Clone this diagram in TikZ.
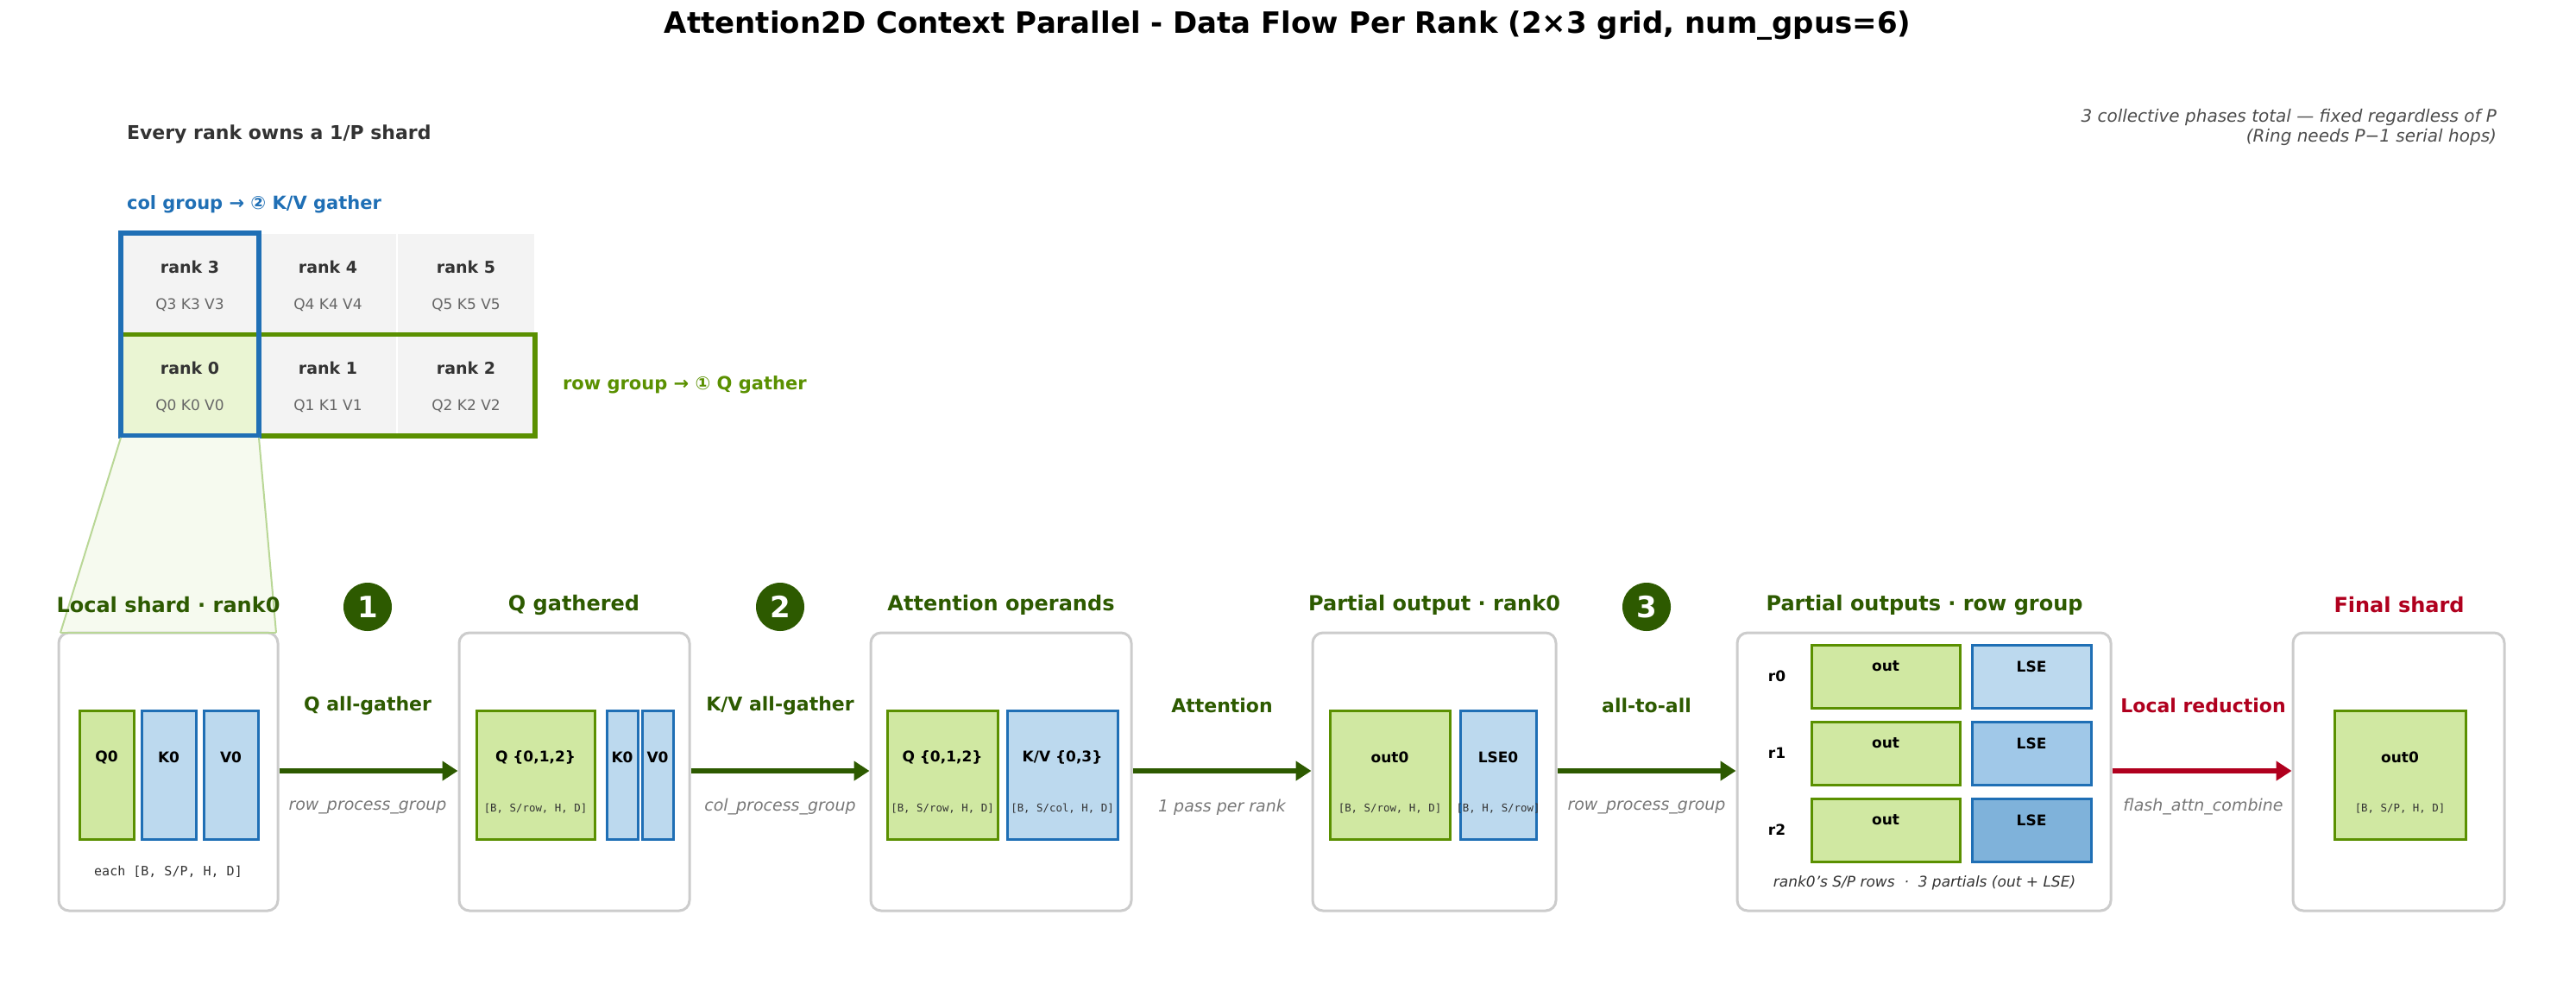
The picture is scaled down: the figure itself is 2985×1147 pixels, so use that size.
\documentclass[tikz,border=0pt]{standalone}
\usepackage{fontspec}
\setmainfont{DejaVu Sans}
\setsansfont{DejaVu Sans}
\setmonofont{DejaVu Sans Mono}
\usetikzlibrary{arrows.meta}
\definecolor{dg}{HTML}{2D5A00}
\definecolor{gst}{HTML}{5A9000}
\definecolor{gfl}{HTML}{D0E8A2}
\definecolor{bst}{HTML}{1F6FB5}
\definecolor{bfl}{HTML}{BCD9EE}
\definecolor{bfl2}{HTML}{A0C8E8}
\definecolor{bfl3}{HTML}{7FB2DA}
\definecolor{rd}{HTML}{B0001E}
\definecolor{txt}{HTML}{333333}
\definecolor{sub}{HTML}{777777}
\definecolor{cellf}{HTML}{F3F3F3}
\definecolor{r0f}{HTML}{EAF5D3}
\definecolor{trf}{HTML}{F6FAEF}
\definecolor{trs}{HTML}{B9D796}
\begin{document}
\begin{tikzpicture}[x=0.5pt,y=-0.5pt,
  panel/.style={draw=black!20,line width=1.5pt,rounded corners=6pt,fill=white},
  gblk/.style={draw=gst,fill=gfl,line width=1.5pt},
  bblk/.style={draw=bst,fill=bfl,line width=1.5pt},
  ptitle/.style={font=\fontsize{12}{14}\selectfont\bfseries,text=dg},
  alab/.style={font=\fontsize{11}{13}\selectfont\bfseries,text=dg},
  asub/.style={font=\fontsize{9.5}{11}\selectfont\itshape,text=sub},
  blab/.style={font=\fontsize{8.5}{10}\selectfont\bfseries,text=black},
  dims/.style={font=\fontsize{6.2}{7}\selectfont\ttfamily,text=txt},
  flow/.style={-{Triangle[length=9pt,width=11pt]},line width=3pt,draw=dg},
  badge/.style={circle,fill=dg,text=white,minimum size=28pt,inner sep=0pt,font=\fontsize{17}{18}\selectfont\bfseries},
  rk/.style={font=\fontsize{9.5}{11}\selectfont\bfseries,text=txt},
  rq/.style={font=\fontsize{8.5}{10}\selectfont,text=black!60}]
\useasboundingbox (0,0) rectangle (2985,1147);
\node[font=\fontsize{17}{20}\selectfont\bfseries] (title) at (1492,30) {Attention2D Context Parallel - Data Flow Per Rank (2×3 grid, num\_gpus=6)};
\node[anchor=west,font=\fontsize{11}{13}\selectfont\bfseries,text=txt] (every) at (140,156) {Every rank owns a 1/P shard};
\node[anchor=east,align=right,font=\fontsize{10}{11.5}\selectfont\itshape,text=black!70] (note) at (2900,147) {3 collective phases total — fixed regardless of P\\(Ring needs P−1 serial hops)};
\node[anchor=west,font=\fontsize{10.5}{13}\selectfont\bfseries,text=bst] (colg) at (140,237) {col group → ② K/V gather};
% grid cells
\foreach \c/\r/\n/\q in {0/0/3/Q3 K3 V3,1/0/4/Q4 K4 V4,2/0/5/Q5 K5 V5,0/1/0/Q0 K0 V0,1/1/1/Q1 K1 V1,2/1/2/Q2 K2 V2}{
  \pgfmathsetmacro{\xa}{140+160*\c}
  \pgfmathsetmacro{\ya}{270+117.5*\r}
  \ifnum\n=0 \def\cf{r0f}\else\def\cf{cellf}\fi
  \fill[\cf,draw=white,line width=1pt] (\xa,\ya) rectangle ++(160,117.5);
  \node[rk] (rank\n) at (\xa+80,\ya+39) {rank \n};
  \node[rq] (qkv\n) at (\xa+80,\ya+83) {\q};
}
\draw[gst,line width=2.8pt] (140,387.5) rectangle (620,505);
\draw[bst,line width=2.8pt] (140,270) rectangle (300,505);
\node[anchor=west,font=\fontsize{10.5}{13}\selectfont\bfseries,text=gst] (rowg) at (645,446) {row group → ① Q gather};
% trapezoid
\fill[trf] (140,507) -- (300,507) -- (320,733) -- (70,733) -- cycle;
\draw[trs,line width=1pt] (140,507) -- (70,733) (300,507) -- (320,733);
% panels
\node[panel,minimum width=127pt,minimum height=161pt] (p1) at (195,894) {};
\node[panel,minimum width=133.5pt,minimum height=161pt] (p2) at (665.5,894) {};
\node[panel,minimum width=151pt,minimum height=161pt] (p3) at (1160,894) {};
\node[panel,minimum width=141pt,minimum height=161pt] (p4) at (1662,894) {};
\node[panel,minimum width=216.5pt,minimum height=161pt] (p5) at (2229.5,894) {};
\node[panel,minimum width=122.5pt,minimum height=161pt] (p6) at (2779.5,894) {};
\draw[trs,line width=1pt] (70,733) -- (320,733);
\node[ptitle] (t1) at (195,701) {Local shard · rank0};
\node[ptitle] (t2) at (665,701) {Q gathered};
\node[ptitle] (t3) at (1160,701) {Attention operands};
\node[ptitle] (t4) at (1662,701) {Partial output · rank0};
\node[ptitle] (t5) at (2230,701) {Partial outputs · row group};
\node[ptitle,text=rd] (t6) at (2780,701) {Final shard};
\node[badge] (b1) at (426,703) {1};
\node[badge] (b2) at (904,703) {2};
\node[badge] (b3) at (1908,703) {3};
% panel 1
\draw[gblk] (92,823) rectangle (155,972); \node[blab] (q0) at (123.5,877) {Q0};
\draw[bblk] (164,823) rectangle (227,972); \node[blab] (k0) at (195.5,877) {K0};
\draw[bblk] (236,823) rectangle (299,972); \node[blab] (v0) at (267.5,877) {V0};
\node[font=\fontsize{7.5}{9}\selectfont\ttfamily,text=txt] (each) at (195,1010) {each [B, S/P, H, D]};
% panel 2
\draw[gblk] (552,823) rectangle (689,972); \node[blab] (qg) at (620.5,877) {Q \{0,1,2\}}; \node[dims] at (620.5,937) {[B, S/row, H, D]};
\draw[bblk] (703,823) rectangle (739,972); \node[blab] at (721,877) {K0};
\draw[bblk] (744,823) rectangle (780,972); \node[blab] at (762,877) {V0};
% panel 3
\draw[gblk] (1028,823) rectangle (1156,972); \node[blab] at (1092,877) {Q \{0,1,2\}}; \node[dims] at (1092,937) {[B, S/row, H, D]};
\draw[bblk] (1167,823) rectangle (1295,972); \node[blab] at (1231,877) {K/V \{0,3\}}; \node[dims] at (1231,937) {[B, S/col, H, D]};
% panel 4
\draw[gblk] (1541,823) rectangle (1680,972); \node[blab] at (1610.5,877) {out0}; \node[dims] at (1610.5,937) {[B, S/row, H, D]};
\draw[bblk] (1692,823) rectangle (1780,972); \node[blab] at (1736,877) {LSE0}; \node[dims] at (1736,937) {[B, H, S/row]};
% panel 5
\foreach \i/\y/\bf in {0/747/bfl,1/836/bfl2,2/925/bfl3}{
  \node[blab] (r\i) at (2059,\y+36) {r\i};
  \draw[gblk] (2099,\y) rectangle (2271,\y+73); \node[blab] at (2185,\y+25) {out};
  \draw[bblk,fill=\bf] (2285,\y) rectangle (2423,\y+73); \node[blab] at (2354,\y+25) {LSE};
}
\node[font=\fontsize{8.5}{10}\selectfont\itshape,text=txt] (cap5) at (2230,1023) {rank0's S/P rows\ \ ·\ \ 3 partials (out + LSE)};
% panel 6
\draw[gblk] (2705,823) rectangle (2857,972); \node[blab] at (2781,877) {out0}; \node[dims] at (2781,937) {[B, S/P, H, D]};
% arrows
\draw[flow] (p1.east |- 0,893) -- (p2.west |- 0,893);
\draw[flow] (p2.east |- 0,893) -- (p3.west |- 0,893);
\draw[flow] (p3.east |- 0,893) -- (p4.west |- 0,893);
\draw[flow] (p4.east |- 0,893) -- (p5.west |- 0,893);
\draw[flow,draw=rd] (p5.east |- 0,893) -- (p6.west |- 0,893);
\node[alab] at (426,817) {Q all-gather}; \node[asub] at (426,935) {row\_process\_group};
\node[alab] at (904,817) {K/V all-gather}; \node[asub] at (904,935) {col\_process\_group};
\node[alab] at (1416,817) {Attention}; \node[asub] at (1416,935) {1 pass per rank};
\node[alab] at (1908,817) {all-to-all}; \node[asub] at (1908,935) {row\_process\_group};
\node[alab,text=rd] at (2553,817) {Local reduction}; \node[asub] at (2553,935) {flash\_attn\_combine};
\end{tikzpicture}
\end{document}
